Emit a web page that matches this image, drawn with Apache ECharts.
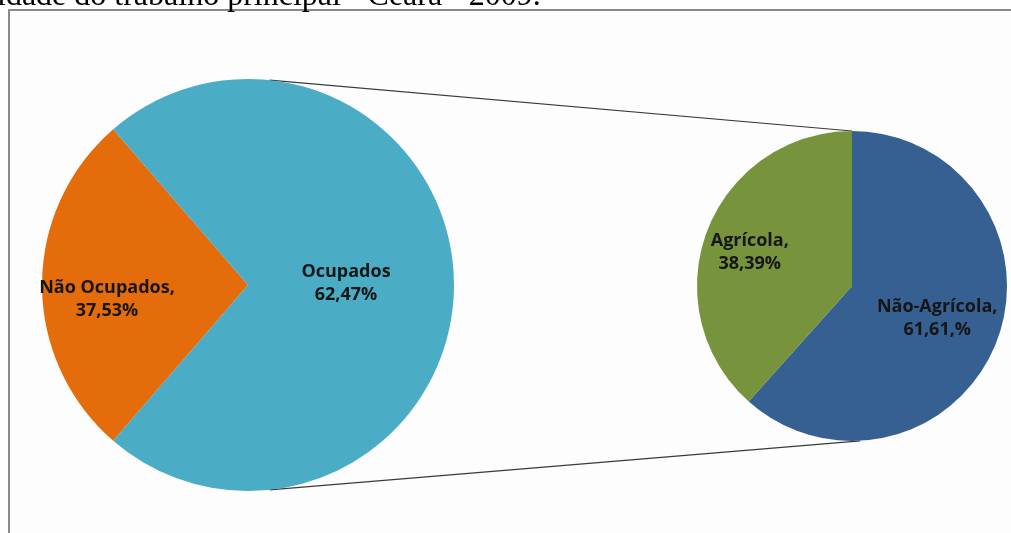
<!DOCTYPE html>
<html>
<head>
<meta charset="utf-8">
<script src="https://cdn.jsdelivr.net/npm/echarts@6/dist/echarts.min.js"></script>
<style>
html,body{margin:0;padding:0;background:#fff;}
#chart{width:1011px;height:533px;}
</style>
</head>
<body>
<div id="chart"></div>
<script>
// ---- data ----
const mainNames = ['Não Ocupados', 'Ocupados'];
const naoOcupadosValue = 37.53;
const mainLabels = ['Não Ocupados,\n37,53%', 'Ocupados\n62,47%'];

const subNames = ['Não-Agrícola', 'Agrícola'];
const subValues = [61.61, 38.39];
const subLabels = ['Não-Agrícola,\n61,61,%', 'Agrícola,\n38,39%'];

const titleText = 'idade do trabalho principal - Ceará - 2009.';

// ---- build ----
const subTotal = subValues.reduce((a, b) => a + b, 0);
const mainValues = [naoOcupadosValue, subTotal];
const mainTotal = mainValues[0] + mainValues[1];
const mainStart = 180 + 180 * mainValues[0] / mainTotal;

const mainColors = ['#E46C0A', '#4BACC6'];
const subColors = ['#376092', '#77933C'];

const L = { cx: 248, cy: 285, r: 206 };
const R = { cx: 852, cy: 286, r: 155 };

function pt(c, deg) {
  const a = deg * Math.PI / 180;
  return [c.cx + c.r * Math.cos(a), c.cy - c.r * Math.sin(a)];
}
const lTop = pt(L, 84), lBot = pt(L, -84);
const rTop = pt(R, 90), rBot = pt(R, -87);

const labelFont = {
  fontFamily: '"Open Sans", "Liberation Sans", sans-serif',
  fontWeight: 'bold',
  fontSize: 18,
  lineHeight: 23,
  color: '#161616',
  align: 'center'
};

const chart = echarts.init(document.getElementById('chart'), null, { renderer: 'canvas' });
chart.setOption({
  animation: false,
  backgroundColor: '#ffffff',
  title: {
    text: titleText,
    left: -3,
    top: -19,
    padding: 0,
    textStyle: {
      fontFamily: '"Liberation Serif", "DejaVu Serif", serif',
      fontWeight: 'normal',
      fontSize: 32,
      color: '#000'
    }
  },
  graphic: [
    {
      type: 'rect', z: -10,
      shape: { x: 9, y: 10, width: 1020, height: 540 },
      style: { fill: '#fdfdfd', stroke: '#8a8a8a', lineWidth: 2 }
    },
    {
      type: 'line', z: 1,
      shape: { x1: lTop[0], y1: lTop[1], x2: rTop[0], y2: rTop[1] },
      style: { stroke: '#3a3a3a', lineWidth: 1.2 }
    },
    {
      type: 'line', z: 1,
      shape: { x1: lBot[0], y1: lBot[1], x2: rBot[0], y2: rBot[1] },
      style: { stroke: '#3a3a3a', lineWidth: 1.2 }
    }
  ],
  series: [
    {
      type: 'pie',
      center: [L.cx, L.cy],
      radius: [0, L.r],
      startAngle: mainStart,
      clockwise: true,
      avoidLabelOverlap: false,
      emphasis: { disabled: true },
      labelLine: { show: false },
      label: Object.assign({ show: true, position: 'inside',
        formatter: p => mainLabels[p.dataIndex] }, labelFont),
      labelLayout: p => (p.dataIndex === 0 ? { dx: -35, dy: 14 } : { dx: -8, dy: -2 }),
      data: mainNames.map((n, i) => ({ name: n, value: mainValues[i], itemStyle: { color: mainColors[i] } }))
    },
    {
      type: 'pie',
      center: [R.cx, R.cy],
      radius: [0, R.r],
      startAngle: 90,
      clockwise: true,
      avoidLabelOverlap: false,
      emphasis: { disabled: true },
      labelLine: { show: false },
      label: Object.assign({ show: true, position: 'inside',
        formatter: p => subLabels[p.dataIndex] }, labelFont),
      labelLayout: p => (p.dataIndex === 0 ? { dx: 10, dy: 4 } : { dx: -27, dy: -5 }),
      data: subNames.map((n, i) => ({ name: n, value: subValues[i], itemStyle: { color: subColors[i] } }))
    }
  ]
});
</script>
</body>
</html>
